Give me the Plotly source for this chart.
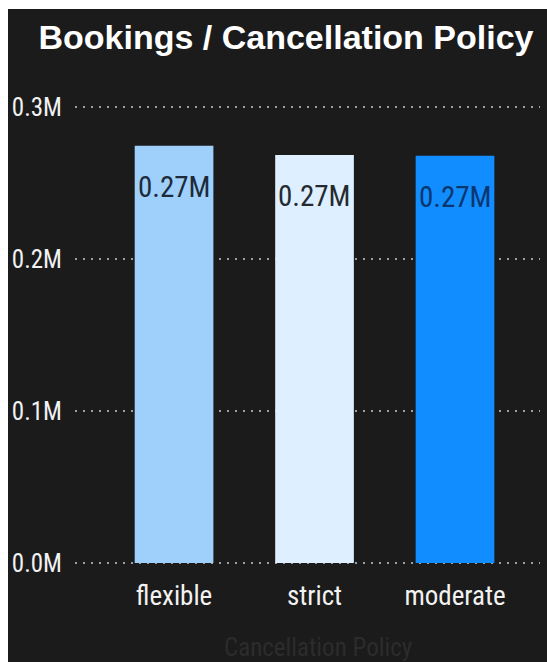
import plotly.graph_objects as go

# Bookings per cancellation policy
policies = ["flexible", "strict", "moderate"]
bookings = [274500, 268500, 268000]
bar_colors = ["#9fd0fb", "#def0ff", "#118dff"]
label_colors = ["#1d2b3a", "#252a30", "#0a3670"]

y_tick_vals = [0, 100000, 200000, 300000]
y_tick_text = ["0.0M", "0.1M", "0.2M", "0.3M"]

W, H = 547, 662
ML, MR, MT, MB = 75, 7, 100, 96
PW, PH = W - ML - MR, H - MT - MB
UNIT_PX = 100000 / 152          # value per pixel on the y axis

def px_x(px):
    return (px - ML) / PW

def px_y(py):
    return (H - MB - py) / PH

BG = "#1b1b1b"
NARROW = "Liberation Sans Narrow, Roboto Condensed, Arial Narrow, sans-serif"

fig = go.Figure(
    go.Bar(
        x=policies,
        y=bookings,
        marker=dict(color=bar_colors, line=dict(width=0)),
        width=0.56,
        hoverinfo="x+y",
    )
)

# value labels just inside the top of each bar
for p, v, c in zip(policies, bookings, label_colors):
    fig.add_annotation(
        x=p, y=v, xref="x", yref="y",
        text=f"{v / 1e6:.2f}M",
        showarrow=False, yanchor="top", yshift=-22,
        font=dict(family=NARROW, size=29, color=c),
    )

# faint axis title along the bottom edge
fig.add_annotation(
    x=px_x(318), y=px_y(647), xref="paper", yref="paper",
    text="Cancellation Policy", showarrow=False,
    xanchor="center", yanchor="middle",
    font=dict(family=NARROW, size=25, color="#2c2c2c"),
)

# thin white frame on the top and left edges
fig.add_shape(type="rect", xref="paper", yref="paper", layer="above",
              x0=px_x(0), x1=px_x(W), y0=px_y(9), y1=px_y(-2),
              fillcolor="#ffffff", line=dict(width=0))
fig.add_shape(type="rect", xref="paper", yref="paper", layer="above",
              x0=px_x(-2), x1=px_x(8), y0=px_y(H + 2), y1=px_y(-2),
              fillcolor="#ffffff", line=dict(width=0))

fig.update_layout(
    width=W, height=H,
    margin=dict(l=ML, r=MR, t=MT, b=MB),
    paper_bgcolor=BG, plot_bgcolor=BG,
    showlegend=False,
    title=dict(
        text="<b>Bookings / Cancellation Policy</b>",
        x=286 / W, xanchor="center",
        y=1 - 37 / H, yanchor="middle", yref="container",
        font=dict(family="Liberation Sans, Arial, sans-serif", size=34, color="#ffffff"),
    ),
    xaxis=dict(
        range=[-0.705, 2.605],
        showgrid=False, zeroline=False, showline=False,
        ticks="outside", ticklen=6, tickcolor="rgba(0,0,0,0)",
        tickfont=dict(family=NARROW, size=27, color="#f2f2f2"),
    ),
    yaxis=dict(
        range=[-3 * UNIT_PX, 300000 + 7 * UNIT_PX],
        tickvals=y_tick_vals, ticktext=y_tick_text,
        showgrid=True, gridcolor="#a0a0a0", gridwidth=1.5, griddash="2px,6px",
        zeroline=False, showline=False,
        ticks="outside", ticklen=7, tickcolor="rgba(0,0,0,0)",
        tickfont=dict(family=NARROW, size=25, color="#f2f2f2"),
    ),
)

fig.write_html("out.html")
